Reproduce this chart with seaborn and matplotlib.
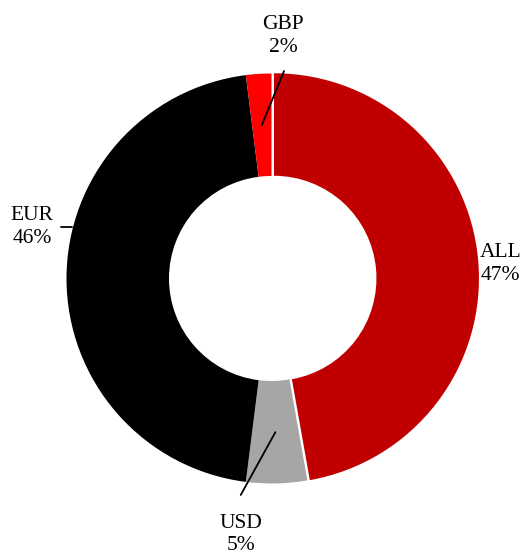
import numpy as np
import matplotlib
matplotlib.use("Agg")
import matplotlib.pyplot as plt
import seaborn as sns

# ===============================
# DATA
# ===============================
currencies = ["ALL", "USD", "EUR", "GBP"]
shares = [47.2, 4.8, 46.0, 2.0]
colors = ["#C00000", "#A6A6A6", "#000000", "#FF0000"]
explode = [0.012, 0, 0, 0]

# label placement (data units, pie radius = 1)
label_pos = {
    "ALL": (1.118, 0.071),
    "USD": (-0.150, -1.250),
    "EUR": (-1.168, 0.251),
    "GBP": (0.056, 1.183),
}
# leader lines: (start, end), None = no line
leader_end = {
    "ALL": None,
    "USD": (-0.150, -1.056),
    "EUR": (-0.973, 0.249),
    "GBP": (0.061, 1.012),
}
leader_start = {
    "EUR": (-1.027, 0.249),
}

# ===============================
# STYLE
# ===============================
sns.set_theme(style="white")
plt.rcParams["font.family"] = ["Liberation Serif", "DejaVu Serif"]

fig = plt.figure(figsize=(5.22, 5.53), dpi=100)
ax = fig.add_axes([0, 0, 1, 1])

# ===============================
# DONUT
# ===============================
wedges, _ = ax.pie(
    shares,
    colors=colors,
    explode=explode,
    startangle=90,
    counterclock=False,
    radius=1.0,
    wedgeprops=dict(width=0.5, linewidth=0),
)

ax.set_xlim(-271.5 / 205, 250.5 / 205)
ax.set_ylim(-274.5 / 205, 278.5 / 205)
ax.set_aspect("equal")
ax.axis("off")

# ===============================
# LABELS
# ===============================
total = sum(shares)
for w, name, val in zip(wedges, currencies, shares):
    pct = f"{round(100 * val / total):.0f}%"
    tx, ty = label_pos[name]
    ax.text(tx, ty, f"{name}\n{pct}", ha="center", va="center",
            fontsize=15.5, linespacing=1.25, color="black")
    end = leader_end[name]
    if end is None:
        continue
    if name in leader_start:
        sx, sy = leader_start[name]
    else:
        mid = np.deg2rad((w.theta1 + w.theta2) / 2)
        sx, sy = 0.75 * np.cos(mid), 0.75 * np.sin(mid)
    ax.plot([sx, end[0]], [sy, end[1]], color="black", linewidth=1.3)

fig.savefig("out.png", dpi=100)
